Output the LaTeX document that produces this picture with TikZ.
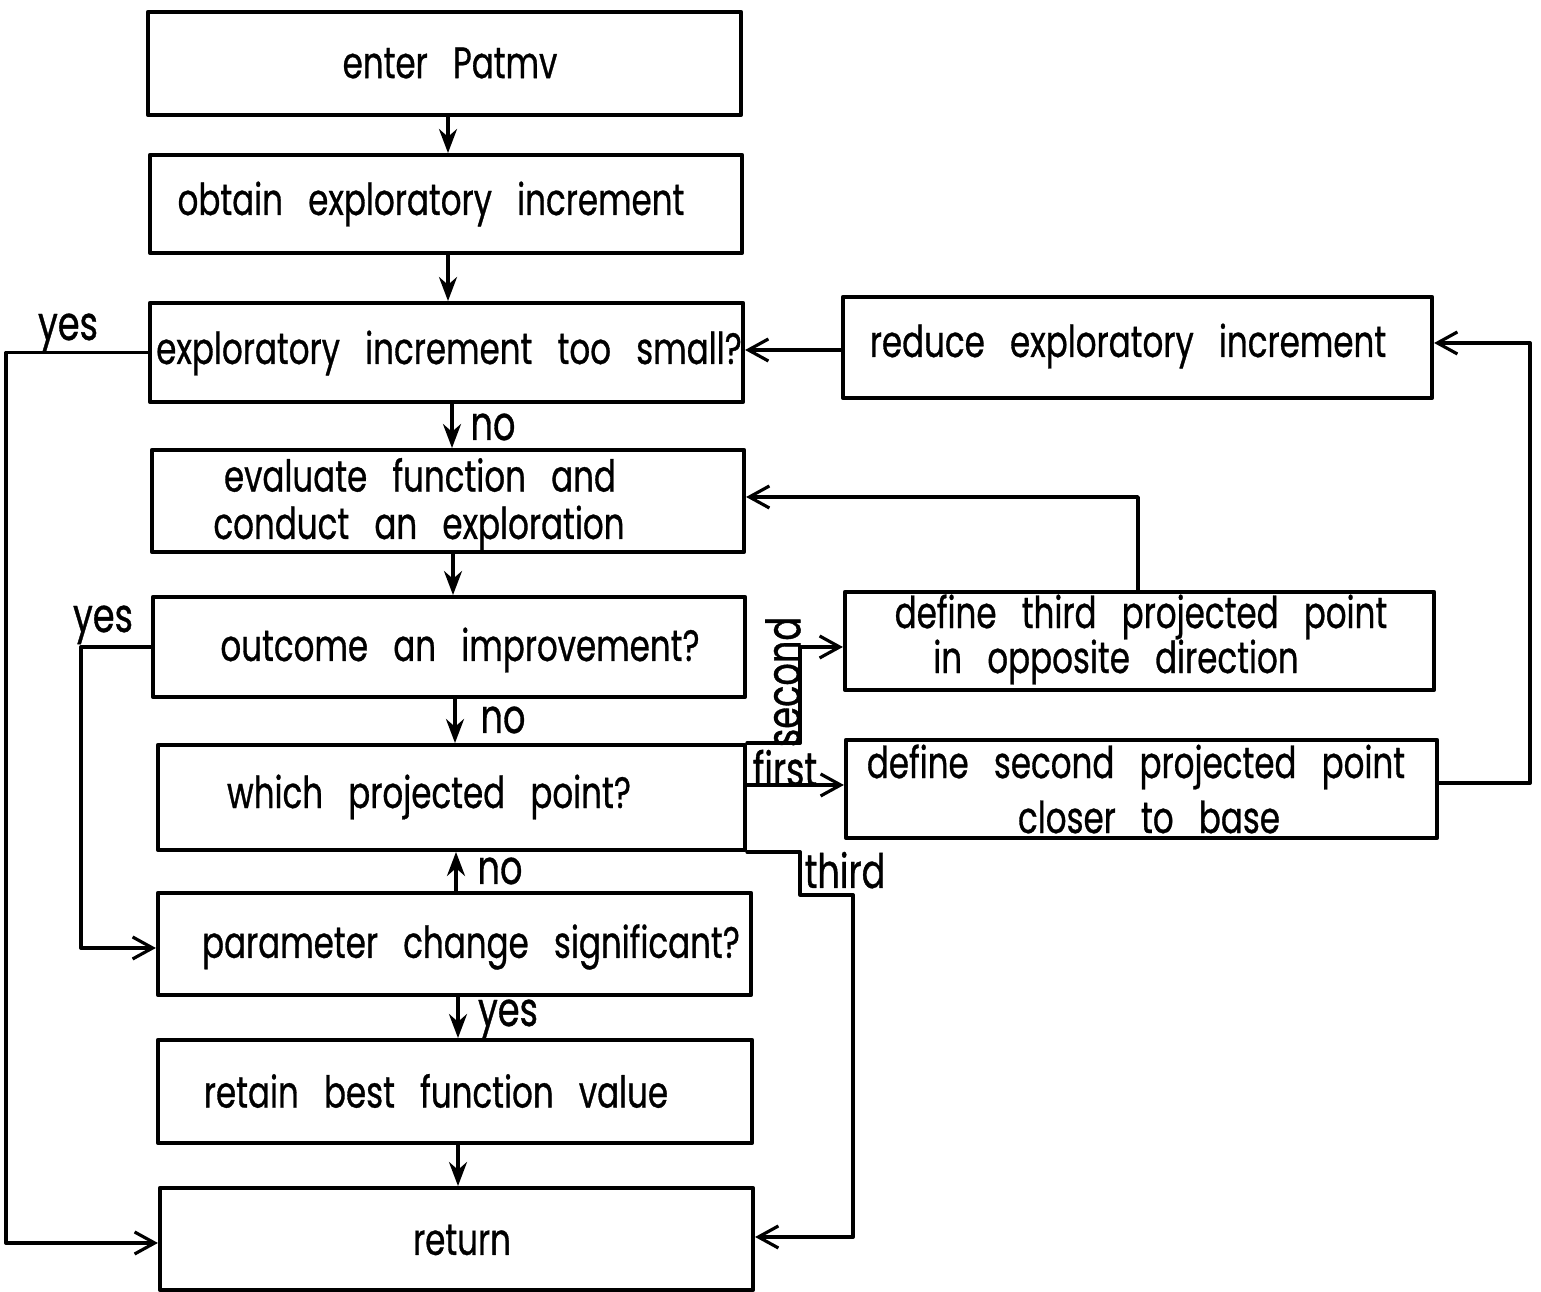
\documentclass[tikz,border=0pt]{standalone}
\usepackage{fontspec}
\setmainfont{Poppins}[FakeStretch=0.74, WordSpace=2.9, FakeBold=0.7]
\usetikzlibrary{arrows.meta}
\begin{document}
\begin{tikzpicture}[x=0.01cm, y=-0.01cm,
  line width=1pt, line cap=round, line join=round,
  box/.style={draw, line width=1.1pt, inner sep=0pt, minimum width=#1},
  box/.default=5.92cm,
  txt/.style={inner sep=0pt, font=\fontsize{12.5}{15}\selectfont},
  lbl/.style={inner sep=0pt, anchor=base, font=\fontsize{13.5}{15}\selectfont},
  arr/.style={-{Stealth[length=2.4mm,width=1.8mm]}},
  barb/.style={-{Straight Barb[length=2mm,width=2.2mm,line width=0.9pt]}}]
\useasboundingbox (0,0) rectangle (1541,1292);

% main column of boxes
\node[box=5.93cm, minimum height=1.03cm] (b1) at (444.5,63.5) {};
\node[box=5.92cm, minimum height=0.98cm] (b2) at (446,204) {};
\node[box=5.93cm, minimum height=0.99cm] (b3) at (446.5,352.5) {};
\node[box=5.92cm, minimum height=1.02cm] (b4) at (448,501) {};
\node[box=5.92cm, minimum height=1.00cm] (b5) at (449,647) {};
\node[box=5.87cm, minimum height=1.05cm] (b6) at (451.5,797.5) {};
\node[box=5.93cm, minimum height=1.02cm] (b7) at (454.5,944) {};
\node[box=5.94cm, minimum height=1.03cm] (b8) at (455,1091.5) {};
\node[box=5.93cm, minimum height=1.02cm] (b9) at (456.5,1239) {};

% right-hand boxes
\node[box=5.89cm, minimum height=1.01cm] (b10) at (1137.5,347.5) {};
\node[box=5.89cm, minimum height=0.98cm] (b11) at (1139.5,641) {};
\node[box=5.91cm, minimum height=0.98cm] (b12) at (1141.5,789) {};

% box texts
\node[txt] (t1) at (450,63) {enter Patmv};
\node[txt] (t2) at (431,204) {obtain exploratory increment};
\node[txt] (t3) at (449,353) {exploratory increment too small?};
\node[txt] (t4a) at (420,475) {evaluate function and};
\node[txt] (t4b) at (419,528) {conduct an exploration};
\node[txt] (t5) at (460,650) {outcome an improvement?};
\node[txt] (t6) at (429,797) {which projected point?};
\node[txt] (t7) at (471,947) {parameter change significant?};
\node[txt] (t8) at (436,1091) {retain best function value};
\node[txt] (t9) at (462,1240) {return};
\node[txt] (t10) at (1128,346) {reduce exploratory increment};
\node[txt] (t11a) at (1141,617) {define third projected point};
\node[txt] (t11b) at (1116,662) {in opposite direction};
\node[txt] (t12a) at (1136,767) {define second projected point};
\node[txt] (t12b) at (1149,817) {closer to base};

% branch labels
\node[lbl] (ly3) at (68,340) {yes};
\node[lbl] (ln3) at (493,440) {no};
\node[lbl] (ly5) at (103,632) {yes};
\node[lbl] (ln5) at (503,733) {no};
\node[lbl] (ln7) at (500,884) {no};
\node[lbl] (ly7) at (508,1026) {yes};
\node[lbl] (lfirst) at (785,786) {first};
\node[lbl, rotate=90, anchor=center] (lsecond) at (783,682) {second};
\node[lbl] (lthird) at (845,888) {third};

% straight flow down the main column
\draw[arr] ([xshift=0.035cm]b1.south) -- ([xshift=0.035cm]b1.south |- b2.north);
\draw[arr] ([xshift=0.02cm]b2.south) -- ([xshift=0.02cm]b2.south |- b3.north);
\draw[arr] ([xshift=0.055cm]b3.south) -- ([xshift=0.055cm]b3.south |- b4.north);
\draw[arr] ([xshift=0.05cm]b4.south) -- ([xshift=0.05cm]b4.south |- b5.north);
\draw[arr] ([xshift=0.06cm]b5.south) -- ([xshift=0.06cm]b5.south |- b6.north);
\draw[arr] ([xshift=0.015cm]b7.north) -- ([xshift=0.015cm]b7.north |- b6.south);
\draw[arr] ([xshift=0.035cm]b7.south) -- ([xshift=0.035cm]b7.south |- b8.north);
\draw[arr] ([xshift=0.03cm]b8.south) -- ([xshift=0.03cm]b8.south |- b9.north);

% yes branches on the left
\draw[barb] (b3.west) -- ++(-142,0) |- ([yshift=-0.04cm]b9.west);
\draw[barb] (b5.west) -- ++(-70,0) |- ([yshift=-0.04cm]b7.west);

% right-hand loops
\draw[barb] ([yshift=-0.025cm]b10.west) -- ([yshift=-0.025cm]b10.west -| b3.east);
\draw[barb] ([yshift=0.06cm]b12.east) -- ++(91,0) |- ([yshift=0.045cm]b10.east);
\draw[barb] ([xshift=-0.015cm]b11.north) |- ([yshift=0.04cm]b4.east);

% which projected point: second / first / third
\draw[barb] (b6.north east) -- ++(53,0) |- ([yshift=-0.06cm]b11.west);
\draw[barb] ([yshift=0.04cm]b12.west -| b6.east) -- ([yshift=0.04cm]b12.west);
\draw[barb] (b6.south east) -- ++(53,0) -- ++(0,43) -- ++(53,0) |- ([yshift=0.02cm]b9.east);
\end{tikzpicture}
\end{document}
